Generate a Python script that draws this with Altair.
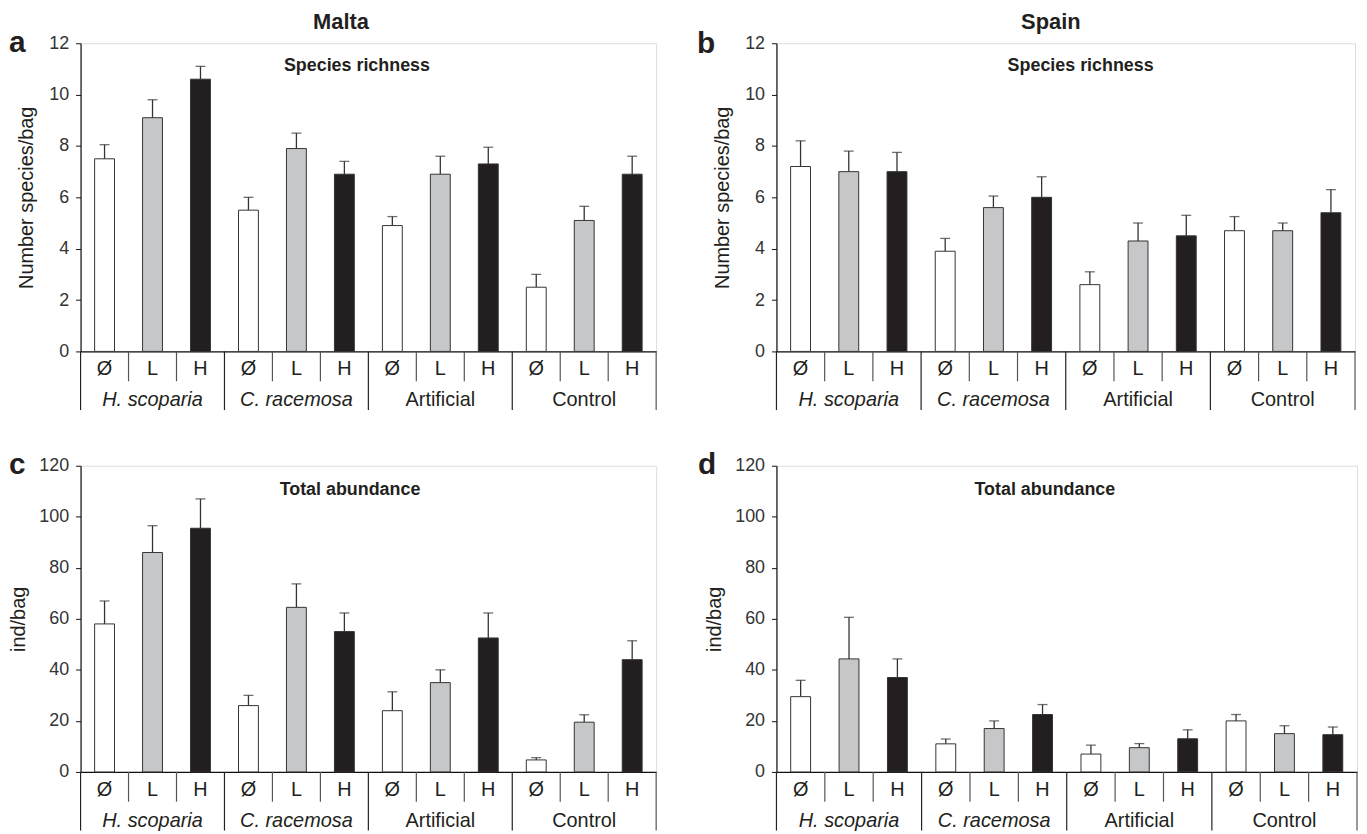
import altair as alt
import pandas as pd

groups = ["H. scoparia", "C. racemosa", "Artificial", "Control"]
levels = ["Ø", "L", "H"]

# Panel a: Malta, species richness (mean, SE)
malta_richness = [7.5, 9.1, 10.6, 5.5, 7.9, 6.9, 4.9, 6.9, 7.3, 2.5, 5.1, 6.9]
malta_richness_se = [0.55, 0.7, 0.5, 0.5, 0.6, 0.5, 0.35, 0.7, 0.65, 0.5, 0.55, 0.7]
# Panel b: Spain, species richness
spain_richness = [7.2, 7.0, 7.0, 3.9, 5.6, 6.0, 2.6, 4.3, 4.5, 4.7, 4.7, 5.4]
spain_richness_se = [1.0, 0.8, 0.75, 0.5, 0.45, 0.8, 0.5, 0.7, 0.8, 0.55, 0.3, 0.9]
# Panel c: Malta, total abundance
malta_abund = [58, 86, 95.5, 26, 64.5, 55, 24, 35, 52.5, 4.7, 19.5, 44]
malta_abund_se = [9, 10.5, 11.5, 4, 9.2, 7.3, 7.4, 5, 9.8, 0.9, 2.9, 7.4]
# Panel d: Spain, total abundance
spain_abund = [29.5, 44.3, 37, 11, 17, 22.5, 7, 9.5, 13, 20, 15, 14.6]
spain_abund_se = [6.4, 16.3, 7.3, 1.9, 3, 3.9, 3.5, 1.6, 3.5, 2.5, 3.1, 3]

bar_colors = ["#ffffff", "#c6c7c9", "#231f20"]
FONT = "Liberation Sans"
INK = "#231f20"


def make_df(means, ses):
    rows = []
    for gi, g in enumerate(groups):
        for li, lv in enumerate(levels):
            i = gi * 3 + li
            rows.append(dict(idx=i, group=g, level=lv, mean=means[i],
                             upper=means[i] + ses[i], italic=gi < 2, mid=li == 1))
    return pd.DataFrame(rows)


def label(txt, x, y, size, weight="normal", align="left", baseline="alphabetic"):
    return alt.Chart(pd.DataFrame({"t": [txt]})).mark_text(
        font=FONT, fontSize=size, fontWeight=weight, align=align,
        baseline=baseline, color=INK
    ).encode(text="t:N", x=alt.value(x), y=alt.value(y))


def panel(means, ses, ymax, ystep, ytitle, width, height, letter, letter_x,
          letter_y, subtitle, sub_x, sub_y, country=None, country_x=None,
          title_pad=12):
    df = make_df(means, ses)
    xs = alt.Scale(domain=list(range(12)), paddingInner=0, paddingOuter=0)
    ys = alt.Scale(domain=[0, ymax], nice=False)
    xaxis = alt.Axis(labels=False, ticks=False, title=None, domain=True,
                     domainColor="#111", domainWidth=1.2, grid=False)
    yaxis = alt.Axis(
        values=list(range(0, ymax + 1, ystep)), title=ytitle,
        grid=False, domainColor="#111", domainWidth=1.2, tickColor="#111",
        tickSize=5, labelPadding=7, labelFontSize=18, labelFont=FONT,
        labelColor="#333", titleFont=FONT, titleFontSize=20,
        titleFontWeight="normal", titleColor=INK, titlePadding=title_pad)

    def X(band=None):
        if band is None:
            return alt.X("idx:O", scale=xs, axis=xaxis, title=None)
        return alt.X("idx:O", scale=xs, axis=xaxis, title=None, bandPosition=band)

    def Y(field):
        return alt.Y(field, scale=ys, axis=yaxis, title=ytitle)

    base = alt.Chart(df)

    err = base.mark_rule(color="#333", strokeWidth=1.3).encode(
        x=X(), y=Y("mean:Q"), y2="upper:Q")
    cap = base.mark_tick(color="#333", thickness=1.3, size=10).encode(
        x=X(), y=Y("upper:Q"))
    bars = base.mark_bar(width=20, stroke="#333", strokeWidth=1).encode(
        x=X(), y=Y("mean:Q"),
        fill=alt.Fill("level:N", scale=alt.Scale(domain=levels, range=bar_colors),
                      legend=None),
    )
    lvl = base.mark_text(font=FONT, fontSize=20, color=INK, baseline="alphabetic").encode(
        x=X(), y=alt.value(height + 24), text="level:N")
    grp_it = base.transform_filter("datum.mid && datum.italic").mark_text(
        font=FONT, fontSize=20, fontStyle="italic", color=INK, baseline="alphabetic").encode(
        x=X(), y=alt.value(height + 55), text="group:N")
    grp_no = base.transform_filter("datum.mid && !datum.italic").mark_text(
        font=FONT, fontSize=20, color=INK, baseline="alphabetic").encode(
        x=X(), y=alt.value(height + 55), text="group:N")
    inner = base.transform_filter("datum.idx % 3 != 0").mark_rule(
        color="#555", strokeWidth=1.2).encode(
        x=X(0), y=alt.value(height), y2=alt.value(height + 30))
    outer = base.transform_filter("datum.idx % 3 == 0").mark_rule(
        color="#222", strokeWidth=1.2).encode(
        x=X(0), y=alt.value(height), y2=alt.value(height + 59))
    right = base.transform_filter("datum.idx == 11").mark_rule(
        color="#555", strokeWidth=1.2).encode(
        x=X(1), y=alt.value(height), y2=alt.value(height + 59))

    layers = [err, cap, bars, lvl, grp_it, grp_no, inner, outer, right,
              label(letter, letter_x, letter_y, 30, "bold"),
              label(subtitle, sub_x, sub_y, 18, "bold", "center", "middle")]
    if country:
        layers.append(label(country, country_x, -21, 22, "bold", "center", "middle"))
    return alt.layer(*layers).properties(width=width, height=height)


a = panel(malta_richness, malta_richness_se, 12, 2, "Number species/bag", 579, 310,
          "a", -72, 9, "Species richness", 278, 23, "Malta", 262)
b = panel(spain_richness, spain_richness_se, 12, 2, "Number species/bag", 582, 310,
          "b", -80, 10, "Species richness", 306, 23, "Spain", 276)
c = panel(malta_abund, malta_abund_se, 120, 20, "ind/bag", 579, 308,
          "c", -72, 8, "Total abundance", 271, 24, title_pad=10)
d = panel(spain_abund, spain_abund_se, 120, 20, "ind/bag", 584, 308,
          "d", -79, 8, "Total abundance", 270, 24, title_pad=10)

chart = alt.concat(
    a, b, c, d, columns=2, align="each",
    spacing={"row": 37, "column": 38},
).properties(padding=0).configure_view(
    stroke="#777", strokeWidth=1.2
).configure(background="white")

chart.save("out.html", embed_options={"renderer": "svg", "actions": False})
